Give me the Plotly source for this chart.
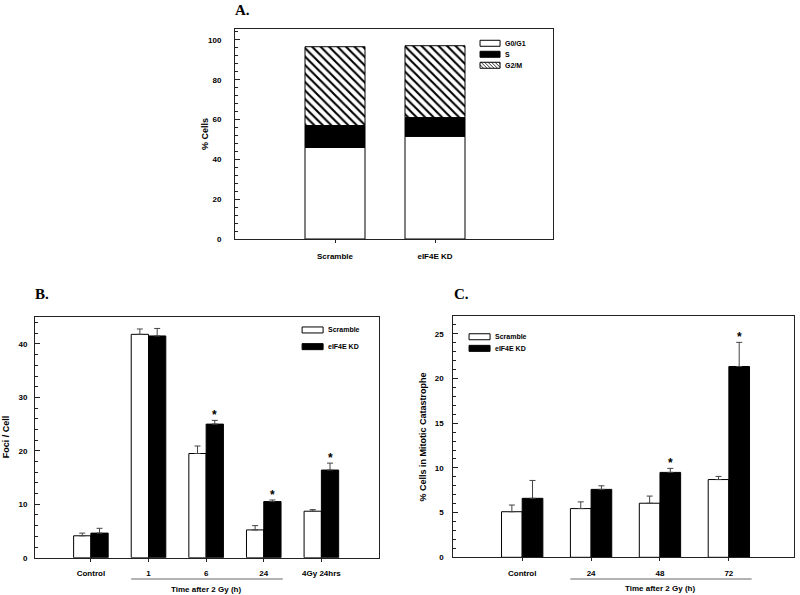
import plotly.graph_objects as go

FONT = "Liberation Sans"
SERIF = "Liberation Serif"

# ---------------- data ----------------
# Panel A: cell-cycle distribution (% cells)
a_groups = ["Scramble", "eIF4E KD"]
a_phase_names = ["G0/G1", "S", "G2/M"]
a_g0g1 = [46.0, 51.6]
a_s = [11.0, 9.4]
a_g2m = [39.6, 36.1]

# Panel B: foci per cell
series_names = ["Scramble", "eIF4E KD"]
b_cats = ["Control", "1", "6", "24", "4Gy 24hrs"]
b_scr = [4.1, 41.8, 19.5, 5.2, 8.7]
b_scr_err = [0.5, 1.0, 1.4, 0.8, 0.3]
b_kd = [4.6, 41.5, 25.0, 10.5, 16.4]
b_kd_err = [0.9, 1.4, 0.7, 0.3, 1.3]
b_sig = [False, False, True, True, True]

# Panel C: % cells in mitotic catastrophe
c_cats = ["Control", "24", "48", "72"]
c_scr = [5.1, 5.45, 6.05, 8.7]
c_scr_err = [0.75, 0.75, 0.8, 0.35]
c_kd = [6.6, 7.6, 9.5, 21.35]
c_kd_err = [2.0, 0.4, 0.45, 2.7]
c_sig = [False, False, True, True]

# ---------------- styles ----------------
OUTLINE = dict(color="black", width=1)
ERR = dict(color="#444", thickness=1, width=3)
HATCH = dict(shape="\\", fgcolor="black", bgcolor="white", size=6, solidity=0.35,
             fgopacity=1)
H = 595.0

fig = go.Figure()
ann = []
shapes = []

# ---- Panel A: stacked bars via explicit bases ----
a_x = list(range(len(a_groups)))
base_s = a_g0g1
base_g2m = [g + s for g, s in zip(a_g0g1, a_s)]
fig.add_trace(go.Bar(x=a_x, y=a_g0g1, width=0.6, name=a_phase_names[0],
                     marker=dict(color="white", line=OUTLINE),
                     xaxis="x", yaxis="y", showlegend=False))
fig.add_trace(go.Bar(x=a_x, y=a_s, base=base_s, width=0.6, name=a_phase_names[1],
                     marker=dict(color="black", line=OUTLINE),
                     xaxis="x", yaxis="y", showlegend=False))
fig.add_trace(go.Bar(x=a_x, y=a_g2m, base=base_g2m, width=0.6, name=a_phase_names[2],
                     marker=dict(color="white", line=OUTLINE, pattern=HATCH),
                     xaxis="x", yaxis="y", showlegend=False))


def grouped(cats, scr, scr_err, kd, kd_err, sig, xa, ya):
    xs = list(range(len(cats)))
    bw = 0.3
    fig.add_trace(go.Bar(x=xs, y=scr, width=bw, offset=-bw, name=series_names[0],
                         marker=dict(color="white", line=OUTLINE),
                         error_y=dict(type="data", array=scr_err, symmetric=False,
                                      arrayminus=[0] * len(scr), **ERR),
                         xaxis=xa, yaxis=ya, showlegend=False))
    fig.add_trace(go.Bar(x=xs, y=kd, width=bw, offset=0, name=series_names[1],
                         marker=dict(color="black", line=OUTLINE),
                         error_y=dict(type="data", array=kd_err, symmetric=False,
                                      arrayminus=[0] * len(kd), **ERR),
                         xaxis=xa, yaxis=ya, showlegend=False))
    # significance stars just above the KD error caps
    for x, v, e, s in zip(xs, kd, kd_err, sig):
        if s:
            ann.append(dict(text="*", xref=xa, yref=ya, x=x + bw / 2, y=v + e,
                            xanchor="center", yanchor="bottom", yshift=-4,
                            showarrow=False,
                            font=dict(family=FONT, size=12, color="black", weight="bold")))


grouped(b_cats, b_scr, b_scr_err, b_kd, b_kd_err, b_sig, "x2", "y2")
grouped(c_cats, c_scr, c_scr_err, c_kd, c_kd_err, c_sig, "x3", "y3")

tickfont = dict(family=FONT, size=8, color="black", weight="bold")
common_x = dict(showgrid=False, zeroline=False, showline=True, linecolor="#222",
                linewidth=1, mirror=True, ticks="outside", ticklen=3, tickwidth=1,
                tickcolor="#222", tickfont=tickfont, fixedrange=True)
common_y = dict(showgrid=False, zeroline=False, showline=True, linecolor="#222",
                linewidth=1, mirror=True, ticks="inside", ticklen=5, tickwidth=1,
                tickcolor="#222", tickfont=tickfont, fixedrange=True)

fig.update_layout(
    width=800, height=600, margin=dict(l=0, r=0, t=0, b=0),
    paper_bgcolor="white", plot_bgcolor="white", barmode="overlay",
    showlegend=False,
    xaxis=dict(common_x, domain=[235 / 800, 553 / 800], range=[-1, 2.18],
               tickvals=a_x, ticktext=a_groups, anchor="y", ticklabelstandoff=6),
    yaxis=dict(common_y, domain=[1 - 239 / H, 1 - 29 / H], range=[0, 105.5],
               dtick=20, tick0=0, anchor="x", ticklabelstandoff=11,
               minor=dict(dtick=4, ticks="inside", ticklen=3, tickwidth=1, tickcolor="#222")),
    xaxis2=dict(common_x, domain=[35 / 800, 379 / 800], range=[-0.97, 5.0],
                tickvals=list(range(len(b_cats))), ticktext=b_cats, anchor="y2",
                ticklabelstandoff=5),
    yaxis2=dict(common_y, domain=[1 - 557.7 / H, 1 - 316.7 / H], range=[0, 45.1],
                dtick=10, tick0=0, anchor="x2", ticklabelstandoff=5,
                minor=dict(dtick=2, ticks="inside", ticklen=3, tickwidth=1, tickcolor="#222")),
    xaxis3=dict(common_x, domain=[453.3 / 800, 794.3 / 800], range=[-1.0, 3.95],
                tickvals=list(range(len(c_cats))), ticktext=c_cats, anchor="y3",
                ticklabelstandoff=5),
    yaxis3=dict(common_y, domain=[1 - 557.3 / H, 1 - 316 / H], range=[0, 27],
                dtick=5, tick0=0, anchor="x3", ticklabelstandoff=7,
                minor=dict(dtick=1, ticks="inside", ticklen=3, tickwidth=1, tickcolor="#222")),
)

lbl = dict(family=FONT, size=8, color="black", weight="bold")

# Panel letters
for txt, ax, xf, yf in [("A.", "", -0.005, 1.09), ("B.", "2", -0.005, 1.095), ("C.", "3", -0.005, 1.09)]:
    ann.append(dict(text=txt, xref=f"x{ax} domain", yref=f"y{ax} domain", x=xf, y=yf,
                    xanchor="left", yanchor="middle", showarrow=False,
                    font=dict(family=SERIF, size=15, color="black", weight="bold")))

# Y-axis titles
for txt, ax, xf in [("% Cells", "", -0.094), ("Foci / Cell", "2", -0.084),
                    ("% Cells in Mitotic Catastrophe", "3", -0.089)]:
    ann.append(dict(text=txt, xref=f"x{ax} domain", yref=f"y{ax} domain", x=xf, y=0.5,
                    textangle=-90, xanchor="center", yanchor="middle", showarrow=False,
                    font=dict(family=FONT, size=9, color="black", weight="bold")))

# Time brackets and labels
for ax, ylin, ytxt in [("2", -0.088, -0.13), ("3", -0.09, -0.13)]:
    shapes.append(dict(type="line", xref=f"x{ax}", yref=f"y{ax} domain",
                       x0=1 - 0.3, x1=3 + 0.33, y0=ylin, y1=ylin,
                       line=dict(color="#999", width=1.5)))
    ann.append(dict(text="Time after 2 Gy (h)", xref=f"x{ax}", yref=f"y{ax} domain",
                    x=2, y=ytxt, xanchor="center", yanchor="middle", showarrow=False,
                    font=lbl))


# Legends (swatch shapes + labels), anchored in axis-domain, sized in pixels
def legend_item(ax, xf, yf, dy, kind, text, sw=20, sh=6):
    xr, yr = f"x{ax} domain", f"y{ax} domain"
    fill = "black" if kind == "solid" else "white"
    shapes.append(dict(type="rect", xref=xr, yref=yr, xsizemode="pixel", ysizemode="pixel",
                       xanchor=xf, yanchor=yf, x0=-sw / 2, x1=sw / 2,
                       y0=-dy - sh / 2, y1=-dy + sh / 2,
                       fillcolor=fill, line=dict(color="black", width=1)))
    if kind == "hatch":
        segs = []
        step = 3.5
        a = -sw / 2 - sh
        while a < sw / 2:
            x0, y0 = a, sh / 2
            x1, y1 = a + sh, -sh / 2
            if x0 < -sw / 2:
                y0 = sh / 2 - (-sw / 2 - x0)
                x0 = -sw / 2
            if x1 > sw / 2:
                y1 = -sh / 2 + (x1 - sw / 2)
                x1 = sw / 2
            if x1 > x0:
                segs.append(f"M{x0:.2f},{y0 - dy:.2f}L{x1:.2f},{y1 - dy:.2f}")
            a += step
        shapes.append(dict(type="path", xref=xr, yref=yr, xsizemode="pixel",
                           ysizemode="pixel", xanchor=xf, yanchor=yf, path="".join(segs),
                           line=dict(color="black", width=0.8)))
    ann.append(dict(text=text, xref=xr, yref=yr, x=xf, y=yf, xshift=sw / 2 + 3,
                    yshift=-dy, xanchor="left", yanchor="middle", showarrow=False,
                    font=dict(family=FONT, size=7, color="black", weight="bold")))


kinds_a = ["open", "solid", "hatch"]
for i, (k, n) in enumerate(zip(kinds_a, a_phase_names)):
    legend_item("", 0.802, 0.932, 11 * i, k, n)
for i, (k, n) in enumerate(zip(["open", "solid"], series_names)):
    legend_item("2", 0.807, 0.945, 16.7 * i, k, n, sw=21)
    legend_item("3", 0.077, 0.914, 11.6 * i, k, n, sw=21)

fig.update_layout(annotations=ann, shapes=shapes)
fig.write_html("out.html", config={"displayModeBar": False},
               post_script="document.body.style.margin='0';")
